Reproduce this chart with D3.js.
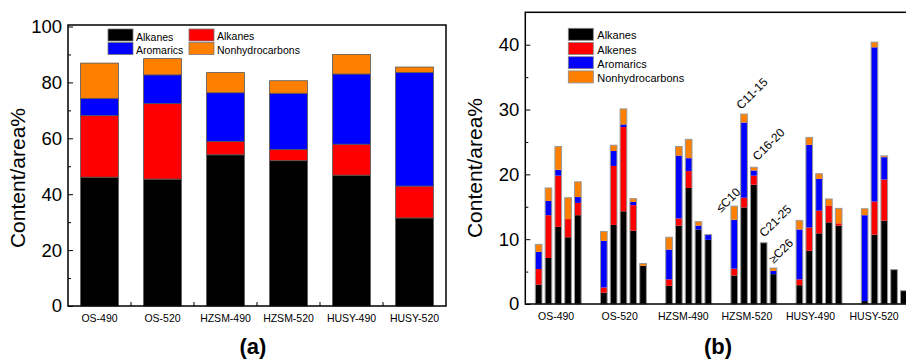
<!DOCTYPE html>
<html><head><meta charset="utf-8">
<script src="https://cdnjs.cloudflare.com/ajax/libs/d3/7.8.5/d3.min.js"></script>
<style>body{margin:0;background:#fff}svg{display:block;font-family:Arial,"Liberation Sans",sans-serif}</style>
</head><body><svg id="c" width="906" height="360"></svg>
<script>
// ---------- data ----------
const categories = ["OS-490","OS-520","HZSM-490","HZSM-520","HUSY-490","HUSY-520"];
const seriesNames = ["Alkanes","Alkenes","Aromarics","Nonhydrocarbons"];
const legendLabelsA = ["Alkanes","Alkanes","Aromarics","Nonhydrocarbons"];
const seriesColors = ["#000000","#ff0000","#0000ff","#ff8000"];
// panel (a)
const alkanesA   = [46.1, 45.4, 54.1, 52.0, 46.8, 31.5];
const alkenesA   = [22.0, 27.0,  4.8,  4.0, 11.1, 11.4];
const aromaticsA = [ 6.2, 10.3, 17.4, 20.1, 25.1, 40.7];
const nonhydroA  = [12.6,  5.8,  7.2,  4.5,  7.0,  1.9];
const yTicksA = [0,20,40,60,80,100];
const yMinorA = [10,30,50,70,90];
// panel (b): five carbon-number fractions per sample
const fractions = ["≤C10","C11-15","C16-20","C21-25","≥C26"];
const alkanesB = [
  [3.0, 7.1, 11.9, 10.3, 13.7],
  [1.75, 12.2, 14.3, 11.3, 5.9],
  [2.8, 12.1, 17.9, 11.5, 9.9],
  [4.4, 14.9, 18.4, 9.45, 4.6],
  [2.9, 8.2, 10.9, 12.6, 12.1],
  [0.45, 10.7, 12.85, 5.3, 2.05]];
const alkenesB = [
  [2.4, 6.6, 7.9, 2.8, 1.9],
  [0.8, 9.1, 13.0, 3.95, 0],
  [1.0, 1.1, 2.6, 0, 0],
  [1.05, 1.5, 1.4, 0, 0],
  [0.9, 3.6, 3.5, 2.6, 0.35],
  [0, 5.1, 6.35, 0, 0]];
const aromaticsB = [
  [2.65, 2.2, 0.9, 0, 0.9],
  [7.2, 2.3, 0.4, 0.5, 0],
  [4.6, 9.7, 2.0, 0.6, 0.8],
  [7.55, 11.6, 0.8, 0, 0.5],
  [7.7, 12.75, 4.9, 0, 0],
  [13.25, 23.8, 3.45, 0, 0]];
const nonhydroB = [
  [1.15, 2.0, 3.6, 3.3, 2.35],
  [1.45, 0.9, 2.4, 0.5, 0.35],
  [1.9, 1.4, 2.9, 0.6, 0],
  [2.1, 1.3, 0.5, 0, 0.45],
  [1.4, 1.15, 0.8, 1.0, 2.3],
  [1.0, 0.8, 0.2, 0, 0]];
const yTicksB = [0,10,20,30,40];
const yMinorB = [5,15,25,35];
const annotatedGroup = "HZSM-520";

// ---------- layout ----------
const svg = d3.select("#c");
const F = 'Arial,"Liberation Sans",sans-serif';

function yAxes(g, y, x0, major, minor){
  const ax = d3.axisLeft(y).tickValues(major).tickSizeInner(-5).tickSizeOuter(0).tickPadding(6);
  const ga = g.append("g").attr("transform",`translate(${x0},0)`).call(ax);
  ga.select(".domain").remove();
  ga.selectAll("text").attr("font-size",18.5).attr("font-family",F).attr("fill","#000");
  ga.selectAll("line").attr("stroke","#000").attr("stroke-width",1);
  const am = d3.axisLeft(y).tickValues(minor).tickSizeInner(-3).tickSizeOuter(0).tickFormat("");
  const gm = g.append("g").attr("transform",`translate(${x0},0)`).call(am);
  gm.select(".domain").remove();
  gm.selectAll("line").attr("stroke","#000");
}
function yTitle(g, x, yc){
  g.append("text").attr("transform",`translate(${x},${yc}) rotate(-90)`)
   .attr("text-anchor","middle").attr("dy","0.35em")
   .attr("font-size",21).attr("font-family",F).text("Content/area%");
}

// ===== Panel (a) =====
const A = {x0:68, x1:446, y0:25, y1:306};
const gA = svg.append("g");
const xA = d3.scaleBand().domain(categories).range([A.x0,A.x1]).paddingInner(0.4).paddingOuter(0.2);
const yA = d3.scaleLinear().domain([0,100]).range([A.y1, 26.5]);
const tableA = categories.map((c,i)=>({cat:c, Alkanes:alkanesA[i], Alkenes:alkenesA[i], Aromarics:aromaticsA[i], Nonhydrocarbons:nonhydroA[i]}));
const stackA = d3.stack().keys(seriesNames)(tableA);
stackA.forEach((layer,k)=>{
  gA.append("g").selectAll("rect").data(layer).join("rect")
    .attr("x",d=>xA(d.data.cat)).attr("width",xA.bandwidth())
    .attr("y",d=>yA(d[1])).attr("height",d=>yA(d[0])-yA(d[1]))
    .attr("fill",seriesColors[k]).attr("stroke","#555").attr("stroke-width",0.8);
});
gA.append("rect").attr("x",A.x0).attr("y",A.y0).attr("width",A.x1-A.x0).attr("height",A.y1-A.y0)
  .attr("fill","none").attr("stroke","#000").attr("stroke-width",1.5);
yAxes(gA, yA, A.x0, yTicksA, yMinorA);
const bxA = gA.append("g").attr("transform",`translate(0,${A.y1})`)
  .call(d3.axisBottom(xA).tickSize(0).tickPadding(9));
bxA.select(".domain").remove();
bxA.selectAll("text").attr("font-size",10.5).attr("font-family",F).attr("fill","#000");
gA.append("g").selectAll("line").data(categories.slice(1)).join("line")
  .attr("x1",c=>xA(c)-xA.step()*xA.paddingInner()/2).attr("x2",c=>xA(c)-xA.step()*xA.paddingInner()/2)
  .attr("y1",A.y1).attr("y2",A.y1-4).attr("stroke","#000");
yTitle(gA, 18, 178);
const legA = gA.append("g");
legendLabelsA.forEach((lab,i)=>{
  const col = i%2, row = Math.floor(i/2);
  const lx = 108 + col*81, ly = 29 + row*13.5;
  legA.append("rect").attr("x",lx).attr("y",ly).attr("width",25).attr("height",12)
    .attr("fill",seriesColors[i]).attr("stroke","#777").attr("stroke-width",0.8);
  legA.append("text").attr("x",lx+28).attr("y",ly+(row===0&&col===1?10.5:11.5))
    .attr("font-size",10.5).attr("font-family",F).text(lab);
});
gA.append("text").attr("x",253).attr("y",354).attr("text-anchor","middle")
  .attr("font-size",22).attr("font-weight","bold").attr("font-family",F).text("(a)");

// ===== Panel (b) =====
const B = {x0:525.3, x1:960, y0:12.3, y1:304};
const gB = svg.append("g");
const xG = d3.scaleBand().domain(categories).range([525.65, 525.65+6*65.2]);
const xS = d3.scaleBand().domain(fractions).range([0, xG.bandwidth()]).paddingInner(0.32).paddingOuter(0.985);
const xLab = d3.scaleBand().domain(categories).range([524.3, 905.9]);
const yB = d3.scaleLinear().domain([0,45]).range([B.y1, B.y0]);
const tableB = [];
categories.forEach((c,i)=>fractions.forEach((f,j)=>tableB.push({cat:c, frac:f,
  Alkanes:alkanesB[i][j], Alkenes:alkenesB[i][j], Aromarics:aromaticsB[i][j], Nonhydrocarbons:nonhydroB[i][j]})));
const stackB = d3.stack().keys(seriesNames)(tableB);
stackB.forEach((layer,k)=>{
  gB.append("g").selectAll("rect").data(layer.filter(d=>d[1]-d[0]>0)).join("rect")
    .attr("x",d=>xG(d.data.cat)+xS(d.data.frac)).attr("width",xS.bandwidth())
    .attr("y",d=>yB(d[1])).attr("height",d=>yB(d[0])-yB(d[1]))
    .attr("fill",seriesColors[k]);
});
gB.append("g").selectAll("rect").data(tableB).join("rect")
  .attr("x",d=>xG(d.cat)+xS(d.frac)).attr("width",xS.bandwidth())
  .attr("y",d=>yB(d3.sum(seriesNames,k=>d[k]))).attr("height",d=>yB(0)-yB(d3.sum(seriesNames,k=>d[k])))
  .attr("fill","none").attr("stroke","#999").attr("stroke-width",1);
gB.append("rect").attr("x",B.x0).attr("y",B.y0).attr("width",B.x1-B.x0).attr("height",B.y1-B.y0)
  .attr("fill","none").attr("stroke","#000").attr("stroke-width",1.5);
yAxes(gB, yB, B.x0, yTicksB, yMinorB);
const bxB = gB.append("g").attr("transform",`translate(0,${B.y1})`)
  .call(d3.axisBottom(xLab).tickSize(0).tickPadding(9));
bxB.select(".domain").remove();
bxB.selectAll("text").attr("font-size",10.5).attr("font-family",F).attr("fill","#000");
yTitle(gB, 475, 168);
const annOff = [[-10,7],[0.5,-4],[7,-6],[4,-5],[3.5,-4]];
tableB.filter(d=>d.cat===annotatedGroup).forEach((d,j)=>{
  const bx = xG(d.cat)+xS(d.frac), by = yB(d3.sum(seriesNames,k=>d[k]));
  gB.append("text").attr("transform",`translate(${bx+annOff[j][0]},${by+annOff[j][1]}) rotate(-45)`)
    .attr("font-size",12).attr("font-family",F).text(d.frac);
});
seriesNames.forEach((s,i)=>{
  const ly = 28.3 + i*14.2;
  gB.append("rect").attr("x",568.3).attr("y",ly).attr("width",25).attr("height",12)
    .attr("fill",seriesColors[i]).attr("stroke","#888").attr("stroke-width",0.8);
  gB.append("text").attr("x",597.3).attr("y",ly+11).attr("font-size",11).attr("font-family",F).text(s);
});
gB.append("text").attr("x",718).attr("y",354).attr("text-anchor","middle")
  .attr("font-size",22).attr("font-weight","bold").attr("font-family",F).text("(b)");
</script></body></html>
